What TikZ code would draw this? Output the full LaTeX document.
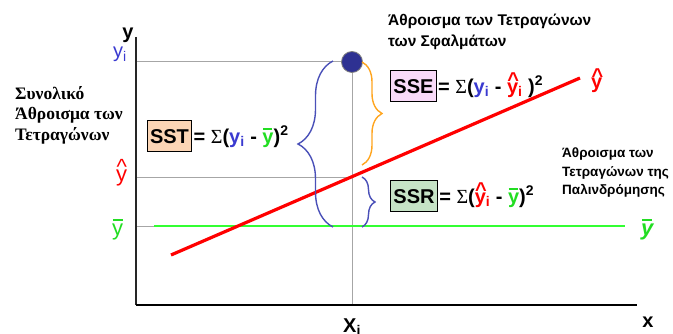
\documentclass[tikz,border=0pt]{standalone}
\usepackage{fontspec}
\setmainfont{Liberation Sans}
\newfontfamily\grserif{Liberation Serif}
\usetikzlibrary{positioning,decorations.pathreplacing}
\definecolor{fitred}{HTML}{FF0000}
\definecolor{obsblue}{HTML}{3A3AD0}
\definecolor{meangreen}{HTML}{22DD22}
\definecolor{meanline}{HTML}{33FF33}
\definecolor{braceblue}{HTML}{4A50B8}
\definecolor{braceorange}{HTML}{FFA51F}
\definecolor{dotblue}{HTML}{2E3192}
\definecolor{sstfill}{HTML}{FBD5B5}
\definecolor{ssefill}{HTML}{F8DAF8}
\definecolor{ssrfill}{HTML}{C6E3C6}

% y with hat and y with bar
\newcommand{\yhat}{\leavevmode\rlap{\kern0.02em\raisebox{0.34em}{\textasciicircum}}y}
\newcommand{\ybar}{\leavevmode\rlap{\kern0.03em\raisebox{0.68em}{\rule{0.45em}{0.07em}}}y}

\begin{document}
\begin{tikzpicture}[x=1pt, y=-1pt,
    lbl/.style={inner sep=0pt, font=\fontsize{20}{24}\selectfont},
    sumbox/.style={draw=black, line width=1pt, inner xsep=3pt, inner ysep=0pt,
      minimum height=31pt, font=\fontsize{20}{24}\selectfont\bfseries},
    formula/.style={anchor=base west, inner sep=0pt, font=\fontsize{20}{24}\selectfont\bfseries},
    guide/.style={draw=gray!70, line width=0.8pt},
    bracket/.style={decorate, decoration={brace, amplitude=#1}, line width=1.4pt}
  ]
    \useasboundingbox (0,0) rectangle (673,334);

    % points on the axes
    \coordinate (O) at (136,305);
    \coordinate (ytop) at (136,37);
    \coordinate (xend) at (637,305);
    \coordinate (yiL) at (136,61);
    \coordinate (yhL) at (136,177);
    \coordinate (ybL) at (136,226);
    \coordinate (xiB) at (352,305);
    \coordinate (yhM) at (352,177);
    \coordinate (gS) at (154,226);
    \coordinate (gE) at (625,226);
    \coordinate (rS) at (171,255);
    \coordinate (rE) at (580,78);

    % guide lines
    \draw[guide] (yiL) -- (352,61);
    \draw[guide] (yhL) -- (yhM);
    \draw[guide] (ybL) -- (gS);
    \draw[guide] (352,61) -- (xiB);

    % axes
    \draw[line width=1.6pt, black!85] (ytop) -- (O);
    \draw[line width=2.6pt] (O) -- (xend);

    % mean line and regression line
    \draw[meanline, line width=1.8pt] (gS) -- (gE);
    \draw[fitred, line width=3.2pt] (rS) -- (rE);

    % observed point
    \node[circle, fill=dotblue, draw=gray, line width=0.8pt, minimum size=21pt, inner sep=0pt] (obs) at (352,62) {};

    % braces
    \draw[bracket=35pt, braceblue] (333,227) -- (333,61);
    \draw[bracket=20pt, braceorange] (362,62) -- (362,165);
    \draw[bracket=13pt, braceblue] (362,177) -- (362,227);

    % axis labels
    \node[lbl, anchor=base, font=\fontsize{20}{24}\selectfont\bfseries] (ylab) at (128,39) {y};
    \node[lbl, anchor=base, font=\fontsize{20}{24}\selectfont\bfseries] (xlab) at (648,327) {x};
    \node[lbl, anchor=base west, font=\fontsize{20}{24}\selectfont\bfseries] (xilab) at (343,332.5) {X\textsubscript{i}};
    \node[lbl, anchor=base west, text=obsblue] (yilab) at (113,58) {y\textsubscript{i}};
    \node[lbl, anchor=base west, text=fitred, font=\fontsize{22}{26}\selectfont] (yhlab) at (116,182) {\yhat};
    \node[lbl, anchor=base west, text=meangreen, font=\fontsize{22}{26}\selectfont] (yblab) at (112,236) {\ybar};
    \node[lbl, anchor=base west, text=fitred, font=\fontsize{20}{24}\selectfont\bfseries] (yhR) at (591,89) {\yhat};
    \node[lbl, anchor=base west, text=meangreen, font=\fontsize{22}{26}\selectfont\bfseries\itshape] (ybR) at (641,236) {\ybar};

    % sums of squares
    \node[sumbox, fill=sstfill] (sst) at (169.5,136.5) {SST};
    \node[formula, xshift=1pt] (sstf) at (sst.base east)
      {= {\grserif\mdseries Σ}(\textcolor{obsblue}{y\textsubscript{i}} - \textcolor{meangreen}{\ybar})\textsuperscript{2}};
    \node[sumbox, fill=ssefill] (sse) at (413.5,86.5) {SSE};
    \node[formula, xshift=1pt] (ssef) at (sse.base east)
      {= {\grserif\mdseries Σ}(\textcolor{obsblue}{y\textsubscript{i}} - \textcolor{fitred}{\yhat\textsubscript{i}} )\textsuperscript{2}};
    \node[sumbox, fill=ssrfill] (ssr) at (414,196.5) {SSR};
    \node[formula, xshift=1pt] (ssrf) at (ssr.base east)
      {= {\grserif\mdseries Σ}(\textcolor{fitred}{\yhat\textsubscript{i}} - \textcolor{meangreen}{\ybar})\textsuperscript{2}};

    % descriptions
    \node[inner sep=0pt, anchor=north west, align=left, font=\grserif\bfseries\fontsize{17.5}{20.5}\selectfont] (sstdesc) at (15,86)
      {Συνολικό\\Άθροισμα των\\Τετραγώνων};
    \node[inner sep=0pt, anchor=north west, align=left, font=\bfseries\fontsize{15.5}{21}\selectfont] (ssedesc) at (388,14)
      {Άθροισμα των Τετραγώνων\\των Σφαλμάτων};
    \node[inner sep=0pt, anchor=north west, align=left, font=\bfseries\fontsize{13.5}{18.5}\selectfont] (ssrdesc) at (562,148)
      {Άθροισμα των\\Τετραγώνων της\\Παλινδρόμησης};
  \end{tikzpicture}
\end{document}
